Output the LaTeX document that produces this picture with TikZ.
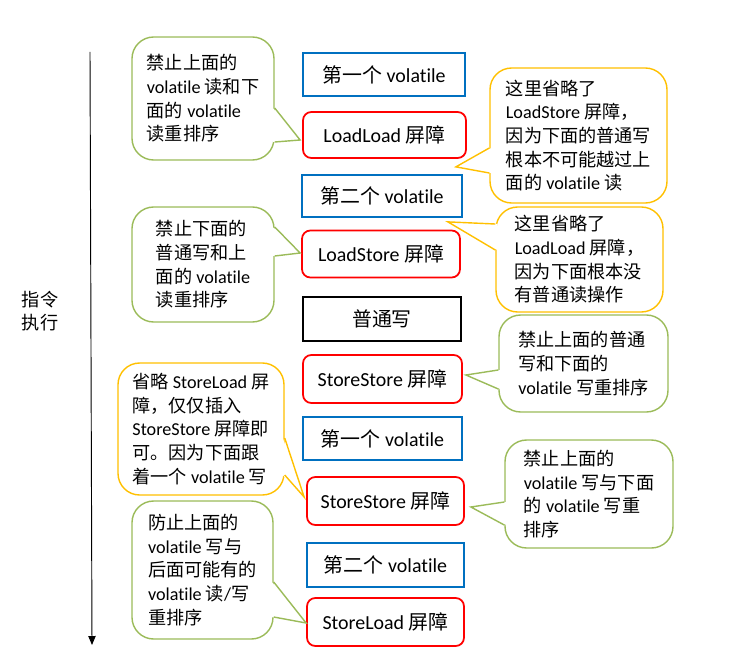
\documentclass[tikz,border=0pt]{standalone}
\usepackage{fontspec}
\setmainfont{Carlito}[Ligatures={TeX,NoCommon}]
\newfontfamily\cjk{Noto Sans CJK SC}
\usepackage{xcolor}
\usepackage{tikz}
\usetikzlibrary{arrows.meta,calc}

\newcommand{\zh}[1]{{\cjk #1}}
\definecolor{volblue}{RGB}{0,112,192}
\definecolor{barred}{RGB}{255,0,0}
\definecolor{notegreen}{RGB}{155,187,89}
\definecolor{noteorange}{RGB}{255,192,0}

\begin{document}
\begin{tikzpicture}[
    x=0.03cm, y=-0.03cm,
    every node/.style={font=\fontsize{15.5pt}{20.2pt}\selectfont},
    instr/.style={draw, line width=1.5pt, inner sep=0pt, align=center, font=\fontsize{17pt}{20pt}\selectfont},
    vol/.style={instr, draw=volblue},
    barrier/.style={instr, draw=barred, rounded corners=0.25cm},
    note/.style={draw, line width=1.2pt, fill=white, rounded corners=0.65cm, align=left, inner sep=0pt},
    gnote/.style={note, draw=notegreen},
    onote/.style={note, draw=noteorange}
]
    \useasboundingbox (0,0) rectangle (741,650);

    % Execution axis
    \coordinate (top) at (90,52);
    \coordinate (bottom) at (92,645);
    \draw[-{Triangle[length=0.27cm,width=0.22cm]}, line width=0.8pt] (top) -- (bottom);
    \node[align=center] (exec) at (40,311) {\zh{指令}\\\zh{执行}};

    % Instruction sequence
    \node[vol, minimum width=4.86cm, minimum height=1.29cm] (v1) at (384,74.5) {\zh{第一个} volatile};
    \node[barrier, minimum width=4.89cm, minimum height=1.38cm] (ll) at (384.5,135) {LoadLoad \zh{屏障}};
    \node[vol, minimum width=4.8cm, minimum height=1.26cm] (v2) at (382,196) {\zh{第二个} volatile};
    \node[barrier, minimum width=4.74cm, minimum height=1.41cm] (ls) at (381,254) {LoadStore \zh{屏障}};
    \node[instr, minimum width=4.74cm, minimum height=1.32cm] (pw) at (382,319) {\zh{普通写}};
    \node[barrier, minimum width=4.77cm, minimum height=1.44cm] (ss1) at (382.5,379) {StoreStore \zh{屏障}};
    \node[vol, minimum width=4.77cm, minimum height=1.29cm] (v3) at (382.5,438.5) {\zh{第一个} volatile};
    \node[barrier, minimum width=4.71cm, minimum height=1.44cm] (ss2) at (385.5,501) {StoreStore \zh{屏障}};
    \node[vol, minimum width=4.71cm, minimum height=1.32cm] (v4) at (385.5,565) {\zh{第二个} volatile};
    \node[barrier, minimum width=4.71cm, minimum height=1.44cm] (sl) at (385.5,622) {StoreLoad \zh{屏障}};

    % Notes
    \node[gnote, minimum width=4.26cm, minimum height=3.69cm] (nA) at (203,98.5)
        {\zh{禁止上面的}\\volatile \zh{读和下}\\\zh{面的} volatile\\\zh{读重排序}};
    \node[onote, minimum width=5.31cm, minimum height=4.05cm] (nB) at (578.5,135.5)
        {\zh{这里省略了}\\LoadStore \zh{屏障，}\\\zh{因为下面的普通写}\\\zh{根本不可能越过上}\\\zh{面的} volatile \zh{读}};
    \node[onote, minimum width=5.01cm, minimum height=3.15cm] (nC) at (579.5,259.5)
        {\zh{这里省略了}\\LoadLoad \zh{屏障，}\\\zh{因为下面根本没}\\\zh{有普通读操作}};
    \node[gnote, minimum width=4.26cm, minimum height=3.45cm] (nD) at (203,264.5)
        {\zh{禁止下面的}\\\zh{普通写和上}\\\zh{面的} volatile\\\zh{读重排序}};
    \node[gnote, minimum width=5.07cm, minimum height=2.91cm] (nE) at (583.5,363.5)
        {\zh{禁止上面的普通}\\\zh{写和下面的}\\volatile \zh{写重排序}};
    \node[onote, minimum width=4.98cm, minimum height=3.96cm] (nF) at (201,429)
        {\zh{省略} StoreLoad \zh{屏}\\\zh{障，仅仅插入}\\StoreStore \zh{屏障即}\\\zh{可。因为下面跟}\\\zh{着一个} volatile \zh{写}};
    \node[gnote, minimum width=5.04cm, minimum height=3.24cm] (nG) at (589,494)
        {\zh{禁止上面的}\\volatile \zh{写与下面}\\\zh{的} volatile \zh{写重}\\\zh{排序}};
    \node[gnote, minimum width=4.23cm, minimum height=4.14cm] (nH) at (202.5,570)
        {\zh{防止上面的}\\volatile \zh{写与}\\\zh{后面可能有的}\\volatile \zh{读}/\zh{写}\\\zh{重排序}};

    % Pointers
    \foreach \n/\s/\ya/\yb/\bx/\ba/\dx/\dy/\sh/\col in {
        nA/east/108/142/ll/west/-2/5/-2/notegreen,
        nB/west/148/173/ll/south east/-11/8/2/noteorange,
        nC/west/224/250/v2/south east/-15/4/2/noteorange,
        nD/east/227/256/ls/west/-1/-1/-2/notegreen,
        nE/west/370/389/ss1/east/3/-4/2/notegreen,
        nF/east/438/475/ss2/west/-2/-4/-2/noteorange,
        nG/west/502/525/ss2/east/6/6/2/notegreen,
        nH/east/582/617/sl/west/0/1/-2/notegreen} {
        \coordinate (tip) at ($(\bx.\ba)+(\dx,\dy)$);
        \fill[white] ($(\n.\s |- 0,\ya)+(\sh,0)$) -- (tip) -- ($(\n.\s |- 0,\yb)+(\sh,0)$) -- cycle;
        \draw[\col, line width=1.2pt] (\n.\s |- 0,\ya) -- (tip) -- (\n.\s |- 0,\yb);
    }
\end{tikzpicture}
\end{document}
